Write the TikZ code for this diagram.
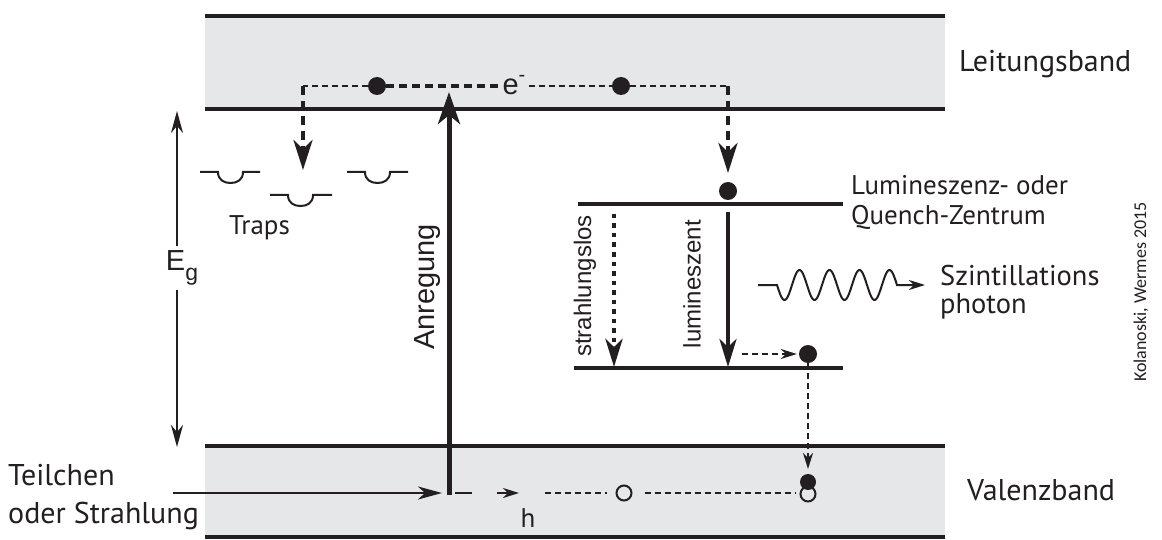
\documentclass[tikz,border=0pt]{standalone}
\usepackage{fontspec}
\setmainfont{PT Sans}
\newfontfamily\helfont{Liberation Sans}
\newfontfamily\calfont{Carlito}
\usetikzlibrary{arrows.meta}
\definecolor{band}{HTML}{E6E7E9}
\definecolor{ink}{HTML}{231F20}
\tikzset{
  dot/.style={circle, fill=ink, inner sep=0pt, minimum size=18pt},
  hole/.style={circle, draw=ink, line width=2pt, fill=band, inner sep=0pt, minimum size=15pt},
  bandline/.style={line width=3.2pt, draw=ink},
  lvl/.style={line width=4pt, draw=ink},
  bigtip/.style={-{Stealth[length=32pt,width=22pt,inset=9pt]}},
  vtip/.style={-{Stealth[length=30pt,width=19pt,inset=9pt]}},
  lumtip/.style={-{Stealth[length=28pt,width=17pt,inset=8pt]}},
  midtip/.style={-{Stealth[length=24pt,width=13pt,inset=7pt]}},
  smalltip/.style={-{Stealth[length=16pt,width=10pt,inset=5pt]}},
  thindash/.style={draw=ink, line width=2pt, dash pattern=on 6pt off 4pt},
  thickdash/.style={draw=ink, line width=3.2pt, dash pattern=on 8pt off 5pt},
  vdash/.style={draw=ink, line width=4.5pt, dash pattern=on 9pt off 6pt},
  myr/.style={text=ink, font=\fontsize{30}{35}\selectfont, inner sep=0pt},
  hlab/.style={text=ink, font=\helfont\fontsize{24}{28}\selectfont, inner sep=0pt},
  trap/.style={draw=ink, line width=2pt},
}
\begin{document}
\begin{tikzpicture}[x=1pt,y=-1pt]
\useasboundingbox (0,0) rectangle (1162,540);
% bands
\fill[band] (205,16) rectangle (945,109);
\fill[band] (205,446) rectangle (945,537);
\draw[bandline] (205,16) -- (945,16);
\draw[bandline] (205,109) -- (945,109);
\draw[bandline] (205,446) -- (945,446);
\draw[bandline] (205,537) -- (945,537);
% band labels
\node[myr, anchor=base west] (lb) at (959,72) {Leitungsband};
\node[myr, anchor=base west] (vb) at (967,500) {Valenzband};
% traps
\draw[trap] (200,172) -- (218,172) .. controls (218,180) and (224,183) .. (230.5,183) .. controls (237,183) and (243,180) .. (243,172) -- (260,172);
\draw[trap] (270,195) -- (288,195) .. controls (288,203) and (294,206) .. (300.5,206) .. controls (307,206) and (313,203) .. (313,195) -- (332,195);
\draw[trap] (347,172) -- (365,172) .. controls (365,180) and (371,183) .. (377.5,183) .. controls (384,183) and (390,180) .. (390,172) -- (408,172);
\node[myr, font=\fontsize{27}{30}\selectfont, anchor=base west] (traps) at (229,235) {Traps};
% Eg
\coordinate (egt) at (177,111);
\coordinate (egb) at (177,447);
\draw[line width=2.2pt, draw=ink, {Stealth[length=22pt,width=12pt,inset=7pt]}-{Stealth[length=22pt,width=12pt,inset=7pt]}] (egt) -- (egb);
\node[hlab, font=\helfont\fontsize{29}{32}\selectfont, fill=white, inner sep=5pt] (eg) at (182,268) {E\raisebox{-0.35em}{\fontsize{23}{24}\selectfont g}};
% electrons in conduction band
\node[dot] (d1) at (377,86) {};
\node[dot] (d2) at (621,86) {};
\node[hlab, font=\helfont\fontsize{29}{32}\selectfont, anchor=base] (e) at (514,95) {e\raisebox{0.45em}{\fontsize{20}{22}\selectfont -}};
\coordinate (c1) at (303,86);
\coordinate (t1) at (303,170);
\coordinate (c2) at (728,86);
\coordinate (t2) at (728,173);
\draw[thindash] (d1.west) -- (c1);
\draw[vdash, vtip] (c1) -- (t1);
\draw[thickdash] (d1.east) -- ([xshift=-3pt]e.west |- d1);
\draw[thindash] ([xshift=3pt]e.east |- d2) -- (d2.west);
\draw[thindash] (d2.east) -- (c2);
\draw[vdash, vtip] (c2) -- (t2);
% luminescence center
\node[dot] (d3) at (728,191) {};
\coordinate (lvlaL) at (578,204);
\coordinate (lvlaR) at (843,204);
\coordinate (lvlbL) at (574,368);
\coordinate (lvlbR) at (843,368);
\draw[lvl] (lvlaL) -- (lvlaR);
\draw[lvl] (lvlbL) -- (lvlbR);
\node[myr, font=\fontsize{27}{30}\selectfont, anchor=base west] (lq) at (851,195) {Lumineszenz- oder};
\node[myr, font=\fontsize{27}{30}\selectfont, anchor=base west] (lq2) at (851,225) {Quench-Zentrum};
\draw[draw=ink, line width=4.5pt, dash pattern=on 4.5pt off 5pt, lumtip] (614,214) -- (614,367);
\draw[draw=ink, line width=4pt, lumtip] (728,212) -- (728,367);
\node[hlab, rotate=90] (sl) at (585,286) {strahlungslos};
\node[hlab, rotate=90] (lz) at (692,284) {lumineszent};
% photon
\draw[draw=ink, line width=2pt, smalltip] (758,285) -- (777,285) -- plot[domain=0:120, samples=121] ({777+\x},{285+15*sin(12*\x)}) -- (925,285);
\node[myr, font=\fontsize{28.5}{33}\selectfont, anchor=base west] (sz) at (940,285) {Szintillations};
\node[myr, font=\fontsize{28.5}{33}\selectfont, anchor=base west] (ph) at (940,313) {photon};
% lower level electron
\node[dot] (d4) at (808,354) {};
\draw[thindash, smalltip] (742,354) -- ([xshift=-2pt]d4.west);
\coordinate (t4) at (808,469);
\draw[thindash, smalltip] (d4.south) -- (t4);
% valence band
\node[hole] (h2) at (808,494) {};
\node[dot, minimum size=16pt] (d5) at (808,482) {};
\node[hole] (h1) at (624,493) {};
\coordinate (va) at (449,495);
\coordinate (vt) at (449,92);
\draw[draw=ink, line width=5pt, bigtip] (va) -- (vt);
\node[hlab, font=\helfont\fontsize{29}{32}\selectfont, rotate=90] (an) at (428,287) {Anregung};
\node[myr, anchor=base west] (t1l) at (8,485) {Teilchen};
\node[myr, anchor=base west] (t2l) at (8,523) {oder Strahlung};
\coordinate (pin) at (173,493);
\coordinate (pout) at (442,493);
\draw[draw=ink, line width=2.2pt, midtip] (pin) -- (pout);
\coordinate (hs) at (455,493);
\coordinate (he) at (519,493);
\draw[draw=ink, line width=2.2pt, dash pattern=on 17pt off 25pt, smalltip] (hs) -- (he);
\node[myr, font=\fontsize{27}{30}\selectfont] (h) at (528,518) {h};
\coordinate (hd) at (545,493);
\draw[thindash, shorten >=9pt] (hd) -- (h1.west);
\draw[thindash, shorten <=12pt, shorten >=4pt] (h1.east) -- (h2.west |- h1);
% credit
\node[text=ink, font=\calfont\fontsize{18}{21}\selectfont, rotate=90] (cr) at (1141,292) {Kolanoski, Wermes 2015};
\end{tikzpicture}
\end{document}
